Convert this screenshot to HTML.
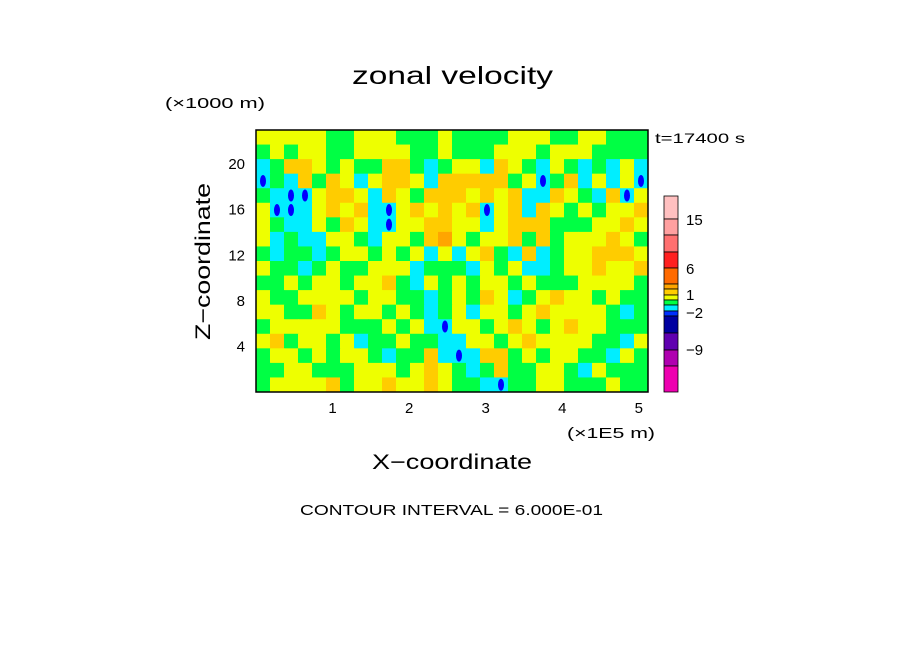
<!DOCTYPE html>
<html><head><meta charset="utf-8"><style>
body{margin:0;background:#fff;}
svg{display:block;font-family:"Liberation Sans",sans-serif;}
</style></head><body>
<svg id="chart" width="904" height="654" viewBox="0 0 904 654">
<text x="352" y="84" font-size="25" textLength="201" lengthAdjust="spacingAndGlyphs">zonal velocity</text>
<text x="165" y="108" font-size="15" textLength="100" lengthAdjust="spacingAndGlyphs">(×1000 m)</text>
<text x="655" y="143" font-size="14" textLength="90" lengthAdjust="spacingAndGlyphs">t=17400 s</text>
<g id="field"></g>
<rect x="256" y="130" width="392" height="262" fill="none" stroke="#000" stroke-width="1.5"/>
<g id="axes" font-size="15"></g>
<text x="567" y="438" font-size="15" textLength="88" lengthAdjust="spacingAndGlyphs">(×1E5 m)</text>
<text x="372" y="469" font-size="21" textLength="160" lengthAdjust="spacingAndGlyphs">X−coordinate</text>
<text transform="translate(210,340) rotate(-90)" font-size="21" textLength="157" lengthAdjust="spacingAndGlyphs">Z−coordinate</text>
<g id="cbar"></g>
<text x="300" y="515" font-size="15" textLength="303" lengthAdjust="spacingAndGlyphs">CONTOUR INTERVAL = 6.000E-01</text>
</svg>
<script>
const codeColors = {g:"#00ff44",y:"#eeff00",o:"#ffcc00",r:"#ffa500",c:"#00eeff",b:"#00eeff"};
const rows = [
"yyyyyggyyygggy"+"ggggyyyggyyggg",
"gygyyggyyyyggy"+"gggyyygyyygggg",
"cgooygyggoogcg"+"yycoygcygcgcyc",
"bgcogoycyooyco"+"oooogybgocycyb",
"gcbbyooycoygoo"+"oyoyoccoygcoby",
"ybbcyoyocbyoyo"+"yobyocoygygyyo",
"ygccygoycbyyoo"+"yycyooogggyyoy",
"ycgccyygcyygor"+"ygyyogogyyyoyg",
"gcggcgyygygycy"+"cyogcocgyyoooy",
"yggcgyggyyycgg"+"gcygyccgyyoyyo",
"ggygyygyyogcyg"+"ygyygygggyyyyg",
"yggyyyygyyggcg"+"ygoycgyoyygygg",
"yyggoygyygygcg"+"ycyygyoyyyygcg",
"gyyyyygggygycb"+"yygyoygyoyyggg",
"yogyygycggyggc"+"cyygyoyyyyggcy",
"gyygygyygcggoc"+"bcoogygyyggcyg",
"ggyygggyyygyoy"+"gcgoggyygcyggg",
"gyyyyogyyoyyoy"+"ggcbggyygggygg"
];
const x0=256,y0=130,W=392,H=262;
const nr=rows.length,nc=28,cw=W/nc,ch=H/nr;
const field=document.getElementById('field');
const NS='http://www.w3.org/2000/svg';
rows.forEach((row,i)=>{for(let j=0;j<nc;j++){
 const r=document.createElementNS(NS,'rect');
 r.setAttribute('x',x0+j*cw);r.setAttribute('y',y0+i*ch);
 r.setAttribute('width',cw+0.5);r.setAttribute('height',ch+0.5);
 r.setAttribute('fill',codeColors[row[j]]||"#00ff44");
 
 
 field.appendChild(r);
 if(row[j]==='b'){
  const e=document.createElementNS(NS,'ellipse');
  e.setAttribute('cx',x0+(j+0.5)*cw);e.setAttribute('cy',y0+(i+0.5)*ch);
  e.setAttribute('rx',3);e.setAttribute('ry',6);e.setAttribute('fill','#0000ff');
  
  
  field.appendChild(e);
 }}});
const xTicks=[1,2,3,4,5], yTicks=[4,8,12,16,20];
const xMax=5.12, yMax=23;
const sx=v=>x0+v/xMax*W, sy=v=>y0+H-v/yMax*H;
const axes=document.getElementById('axes');
xTicks.forEach(v=>{const t=document.createElementNS(NS,'text');
 t.setAttribute('x',sx(v));t.setAttribute('y',413);t.setAttribute('text-anchor','middle');t.textContent=v;
 
 
 axes.appendChild(t);});
yTicks.forEach(v=>{const t=document.createElementNS(NS,'text');
 t.setAttribute('x',245);t.setAttribute('y',sy(v)+5);t.setAttribute('text-anchor','end');t.textContent=v;
 
 
 axes.appendChild(t);});
const cbColors=["#ffc0c0","#ffa0a0","#ff7070","#ff2020","#ff6a00","#ffa500","#ffcc00","#eeff00","#00ff44","#00eeff","#0030ff","#0000a0","#6000b0","#b000b0","#ee00b0"];
const cbEdges=[196,219,235,252,268,284,289,295,300,305,311,316,333,350,366,392];
const cbLabels=["15","6","1","−2","−9"], cbLabelY=[225,274,300,318,355];
const cb=document.getElementById('cbar');
cbColors.forEach((c,i)=>{const r=document.createElementNS(NS,'rect');
 r.setAttribute('x',664);r.setAttribute('y',cbEdges[i]);r.setAttribute('width',14);r.setAttribute('height',cbEdges[i+1]-cbEdges[i]);
 r.setAttribute('fill',c);r.setAttribute('stroke','#000');r.setAttribute('stroke-width','0.8');
 
 
 cb.appendChild(r);});
cbLabels.forEach((l,i)=>{const t=document.createElementNS(NS,'text');
 t.setAttribute('x',686);t.setAttribute('y',cbLabelY[i]);t.setAttribute('font-size','15');t.textContent=l;
 
 
 cb.appendChild(t);});
</script>
</body></html>
